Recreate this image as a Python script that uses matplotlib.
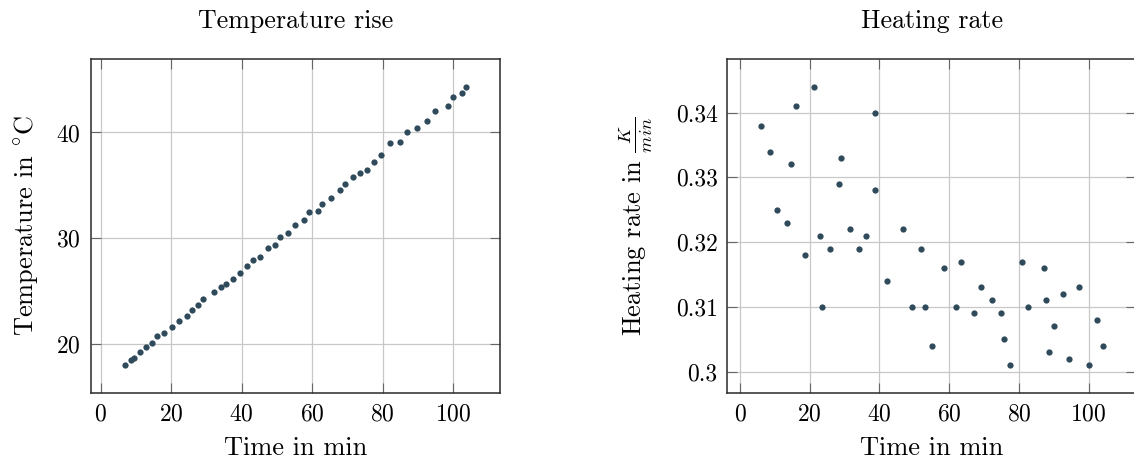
import numpy as np
import matplotlib
matplotlib.use('Agg')
import matplotlib.pyplot as plt

# data
time_temp = [6.8, 8.5, 9.5, 11.2, 12.8, 14.6, 16.0, 18.0, 20.3, 22.3,
             24.4, 26.0, 27.6, 29.0, 32.1, 34.1, 35.4, 37.4, 39.4, 41.5,
             43.3, 45.2, 47.5, 49.3, 50.8, 53.2, 55.1, 57.8, 59.1, 61.7,
             62.8, 65.2, 67.9, 69.3, 71.6, 73.6, 75.4, 77.4, 79.6, 82.2,
             84.9, 86.8, 89.8, 92.5, 94.8, 98.4, 99.8, 102.5, 103.7]
temperature = [18.04, 18.52, 18.74, 19.30, 19.74, 20.15, 20.82, 21.10, 21.67, 22.20,
               22.71, 23.27, 23.68, 24.28, 24.94, 25.45, 25.70, 26.14, 26.74, 27.40,
               28.00, 28.25, 29.10, 29.42, 30.11, 30.52, 31.28, 31.78, 32.47, 32.63,
               33.23, 33.80, 34.55, 35.09, 35.75, 36.22, 36.47, 37.17, 37.86, 38.96,
               39.09, 40.03, 40.38, 41.04, 41.99, 42.49, 43.31, 43.75, 44.34]

time_rate = [6.1, 8.7, 10.7, 13.5, 14.7, 16.0, 18.6, 21.3, 22.9, 23.5,
             25.9, 28.5, 29.1, 31.6, 34.0, 36.2, 38.7, 38.8, 42.3, 46.8,
             49.3, 51.9, 53.2, 55.0, 58.6, 62.0, 63.3, 67.0, 69.1, 72.4,
             74.8, 75.8, 77.5, 81.0, 82.7, 87.3, 87.9, 88.5, 90.1, 92.6,
             94.4, 97.2, 100.0, 102.5, 104.0]
heating_rate = [0.338, 0.334, 0.325, 0.323, 0.332, 0.341, 0.318, 0.344, 0.321, 0.310,
                0.319, 0.329, 0.333, 0.322, 0.319, 0.321, 0.340, 0.328, 0.314, 0.322,
                0.310, 0.319, 0.310, 0.304, 0.316, 0.310, 0.317, 0.309, 0.313, 0.311,
                0.309, 0.305, 0.301, 0.317, 0.310, 0.316, 0.311, 0.303, 0.307, 0.312,
                0.302, 0.313, 0.301, 0.308, 0.304]

x_ticks = [0, 20, 40, 60, 80, 100]
temp_ticks = [20, 30, 40]
rate_ticks = [0.30, 0.31, 0.32, 0.33, 0.34]
rate_tick_labels = ['0.3', '0.31', '0.32', '0.33', '0.34']

plt.rcParams['font.family'] = 'cmr10'
plt.rcParams['mathtext.fontset'] = 'cm'
plt.rcParams['axes.formatter.use_mathtext'] = True

dot_color = '#2f4a5a'
label_size = 19
title_size = 18.7

fig = plt.figure(figsize=(11.34, 4.62), dpi=100)
ax1 = fig.add_axes([0.080, 0.1487, 0.3607, 0.7236])
ax2 = fig.add_axes([0.6414, 0.1487, 0.3607, 0.7236])


def style(ax):
    ax.grid(True, color='#c8c8c8', linewidth=0.9)
    ax.set_axisbelow(True)
    ax.tick_params(direction='in', length=7, width=0.8, color='#666666',
                   top=True, right=True, pad=7, labelsize=17)
    for s in ax.spines.values():
        s.set_linewidth(1.1)
        s.set_color('#2a2a2a')


# left: temperature
ax1.plot(time_temp, temperature, 'o', color=dot_color, markersize=4.5, markeredgewidth=0)
ax1.set_xlim(-2.84, 113.2)
ax1.set_ylim(15.37, 46.94)
ax1.set_xticks(x_ticks)
ax1.set_yticks(temp_ticks)
ax1.set_xlabel('Time in min', fontsize=label_size, labelpad=8)
ax1.set_ylabel(r'Temperature in $^{\circ}$C', fontsize=label_size, labelpad=12)
ax1.set_title('Temperature rise', fontsize=title_size, pad=22)
style(ax1)

# right: heating rate
ax2.plot(time_rate, heating_rate, 'o', color=dot_color, markersize=4.5, markeredgewidth=0)
ax2.set_xlim(-3.64, 113.7)
ax2.set_ylim(0.29666, 0.34829)
ax2.set_xticks(x_ticks)
ax2.set_yticks(rate_ticks)
ax2.set_yticklabels(rate_tick_labels)
ax2.set_xlabel('Time in min', fontsize=label_size, labelpad=8)
ax2.set_ylabel(r'Heating rate in $\frac{K}{min}$', fontsize=label_size, labelpad=15)
ax2.set_title('Heating rate', fontsize=title_size, pad=22)
style(ax2)

fig.savefig('out.png', dpi=100)
